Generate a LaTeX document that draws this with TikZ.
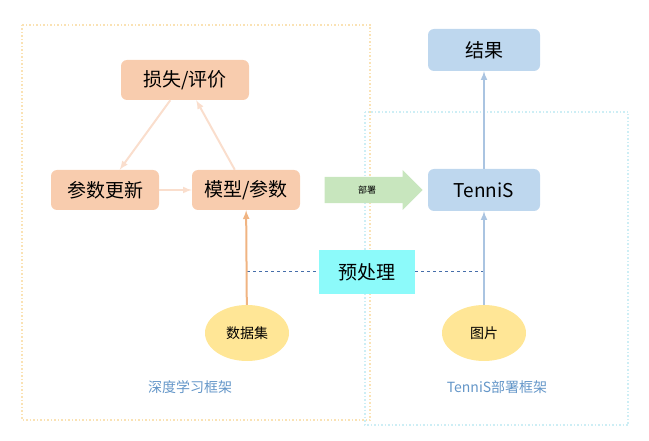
\documentclass[tikz,border=0pt]{standalone}
\usepackage{fontspec}
\setmainfont{Noto Sans CJK SC}
\usetikzlibrary{shapes.geometric, shapes.arrows, arrows}
\definecolor{dlpeach}{RGB}{248, 204, 174}
\definecolor{dlline}{RGB}{250, 222, 205}
\definecolor{dlframe}{RGB}{250, 226, 180}
\definecolor{tsblue}{RGB}{190, 215, 238}
\definecolor{tsline}{RGB}{170, 196, 225}
\definecolor{tsframe}{RGB}{205, 238, 245}
\definecolor{dsyellow}{RGB}{255, 230, 150}
\definecolor{dsorange}{RGB}{240, 180, 130}
\definecolor{deploygreen}{RGB}{200, 230, 190}
\definecolor{prepcyan}{RGB}{140, 250, 250}
\definecolor{labelblue}{RGB}{100, 150, 200}
\definecolor{prepline}{RGB}{70, 110, 170}

\begin{document}
\begin{tikzpicture}[x=1pt, y=-1pt,
  dlbox/.style={rounded corners=6pt, fill=dlpeach, minimum width=108pt, minimum height=40pt, font=\fontsize{19}{22}\selectfont},
  tsbox/.style={rounded corners=6pt, fill=tsblue, minimum width=112pt, minimum height=42pt, font=\fontsize{19}{22}\selectfont},
  dsell/.style={ellipse, fill=dsyellow, minimum width=84pt, minimum height=56pt, font=\fontsize{14}{16}\selectfont},
  flow/.style={-latex, line width=2pt}]
\useasboundingbox (0,0) rectangle (649,441);
% Frames
\draw[dlframe, line width=1.5pt, dotted] (22,25) rectangle (370,420);
\draw[tsframe, line width=1.5pt, dotted] (365,112) rectangle (628,425);

% Deep learning side
\node[dlbox, minimum width=128pt] (loss) at (185,80) {损失/评价};
\node[dlbox] (update) at (105,190) {参数更新};
\node[dlbox] (model) at (246,190) {模型/参数};
\node[dsell] (data) at (247,333) {数据集};

% TenniS side
\node[tsbox] (result) at (484,50) {结果};
\node[tsbox] (tennis) at (484,190) {TenniS};
\node[dsell] (img) at (484,333) {图片};

% Deploy arrow and preprocessing
\node[single arrow, fill=deploygreen, minimum height=98pt, minimum width=40pt,
  single arrow head extend=4pt, font=\small] (deploy) at (367,190) {部署};
\draw[prepline, dashed, line width=1pt] (data.north |- 0,272) -- (img.north |- 0,272);
\node[fill=prepcyan, minimum width=96pt, minimum height=44pt, font=\fontsize{19}{22}\selectfont] (prep) at (367,272) {预处理};

% Connectors
\draw[flow, dsorange] (data) -- (model);
\draw[flow, dlline] (update) -- (model);
\draw[flow, dlline] (model) -- (loss);
\draw[flow, dlline] (loss) -- (update);
\draw[flow, tsline] (img) -- (tennis);
\draw[flow, tsline] (tennis) -- (result);

% Labels
\node[labelblue, font=\fontsize{14}{16}\selectfont] (dllabel) at (190,387) {深度学习框架};
\node[labelblue, font=\fontsize{14}{16}\selectfont] (tslabel) at (497,387) {TenniS部署框架};
\end{tikzpicture}
\end{document}
